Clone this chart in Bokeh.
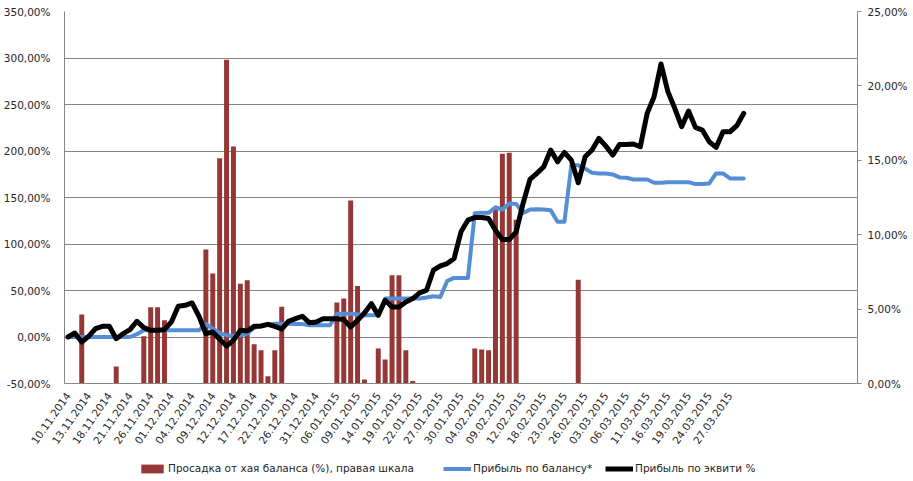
import numpy as np
from bokeh.plotting import figure
from bokeh.layouts import column
from bokeh.models import (Range1d, LinearAxis, FixedTicker, Legend, LegendItem,
                          ColumnDataSource)
from bokeh.embed import file_html
from bokeh.resources import INLINE

# ---- data ----
tick_labels = ["10.11.2014", "13.11.2014", "18.11.2014", "21.11.2014", "26.11.2014",
               "01.12.2014", "04.12.2014", "09.12.2014", "12.12.2014", "17.12.2014",
               "22.12.2014", "26.12.2014", "31.12.2014", "06.01.2015", "09.01.2015",
               "14.01.2015", "19.01.2015", "22.01.2015", "27.01.2015", "30.01.2015",
               "04.02.2015", "09.02.2015", "12.02.2015", "18.02.2015", "23.02.2015",
               "26.02.2015", "03.03.2015", "06.03.2015", "11.03.2015", "16.03.2015",
               "19.03.2015", "24.03.2015", "27.03.2015"]
n_categories = 115

series_names = ["Просадка от хая баланса (%), правая шкала",
                "Прибыль по балансу*",
                "Прибыль по эквити %"]

# drawdown from balance high (%), right scale
drawdown = [0, 0, 4.63, 0, 0, 0, 0, 1.14, 0, 0,
            0, 3.18, 5.12, 5.12, 4.25, 0, 0, 0, 0, 0,
            9.0, 7.39, 15.13, 21.75, 15.93, 6.71, 6.94, 2.64, 2.24, 0.49,
            2.24, 5.15, 0, 0, 0, 0, 0, 0, 0, 5.44,
            5.71, 12.29, 6.56, 0.27, 0, 2.35, 1.61, 7.27, 7.27, 2.24,
            0.16, 0, 0, 0, 0, 0, 0, 0, 0, 2.35,
            2.28, 2.24, 11.68, 15.44, 15.51, 11.01, 0, 0, 0, 0,
            0, 0, 0, 0, 6.98, 0, 0, 0, 0, 0,
            0, 0, 0, 0, 0, 0, 0, 0, 0, 0,
            0, 0, 0, 0, 0, 0, 0, 0, 0]

# profit by balance (%)
balance = [0, 0, 0, 0, 0, 0, 0, 0, 0, 0,
           3.0, 7.2, 7.2, 7.2, 7.2, 7.2, 7.2, 7.2, 7.2, 7.2,
           14.0, 9.0, 4.0, 2.0, 1.5, 1.5, 3.6, 10.0, 11.5, 13.6,
           14.2, 14.2, 14.2, 14.0, 14.0, 12.6, 12.6, 12.6, 12.6, 25.0,
           25.0, 25.0, 24.5, 23.3, 23.3, 23.3, 41.3, 41.3, 41.3, 41.3,
           41.3, 41.3, 42.4, 43.8, 43.1, 60.3, 63.5, 63.5, 63.5, 133.0,
           133.5, 133.5, 139.5, 137.0, 143.6, 143.0, 133.5, 137.0, 137.3, 137.0,
           136.4, 124.0, 124.0, 184.7, 184.7, 181.0, 176.6, 175.9, 175.9, 174.8,
           171.6, 171.2, 169.4, 169.4, 169.4, 165.8, 165.8, 166.5, 166.5, 166.5,
           166.5, 164.4, 164.4, 165.1, 175.9, 175.9, 170.5, 170.5, 170.5]

# profit by equity (%)
equity = [0, 4.3, -5.4, 0.7, 9.0, 11.5, 11.5, -1.8, 3.6, 7.9,
          16.9, 10.0, 7.2, 7.2, 7.9, 16.2, 33.0, 34.1, 36.6, 22.3,
          3.6, 5.4, -2.5, -9.7, -3.6, 7.2, 6.5, 11.5, 11.8, 13.6,
          11.5, 8.6, 16.9, 19.7, 22.3, 15.4, 16.2, 19.7, 19.7, 19.7,
          18.7, 10.8, 17.9, 25.8, 35.9, 23.3, 39.5, 32.3, 32.3, 37.7,
          41.3, 47.4, 50.3, 71.8, 76.5, 79.0, 84.4, 113.1, 125.6, 128.5,
          128.5, 127.4, 114.8, 104.8, 104.8, 113.1, 143.6, 169.4, 175.9, 183.1,
          201.0, 188.4, 198.5, 190.2, 165.8, 193.8, 201.0, 213.6, 205.3, 195.6,
          207.1, 207.1, 207.5, 204.6, 240.5, 258.4, 293.6, 263.8, 245.9, 226.1,
          243.0, 225.4, 222.5, 210.0, 203.9, 220.7, 220.7, 227.2, 240.5]

left_ticks = [-50, 0, 50, 100, 150, 200, 250, 300, 350]
right_ticks = [0, 5, 10, 15, 20, 25]

# ---- style ----
FONT = "DejaVu Sans"
FS = "10.5px"
TXT = "#262626"
GRID = "#868686"
BAR = "#953735"
BLUE = "#558ED5"

x = list(range(len(equity)))
src = ColumnDataSource(dict(x=x, dd=drawdown, bal=balance, eq=equity))

p = figure(frame_width=793, frame_height=372, output_backend="svg", toolbar_location=None,
           x_range=Range1d(-0.5, n_categories - 0.5), y_range=Range1d(-50, 350),
           min_border_left=0, min_border_right=0, min_border_top=11, min_border_bottom=75)
p.extra_y_ranges = {"right": Range1d(0, 25)}
p.outline_line_color = None
p.background_fill_color = "white"
p.border_fill_color = "white"

# grid
p.xgrid.grid_line_color = None
p.ygrid.ticker = FixedTicker(ticks=left_ticks)
p.ygrid.grid_line_color = GRID
p.ygrid.grid_line_width = 1

# x axis
xa = p.xaxis[0]
xa.ticker = FixedTicker(ticks=list(range(0, 3 * len(tick_labels), 3)))
xa.major_label_overrides = {3 * i: lab for i, lab in enumerate(tick_labels)}
xa.major_label_orientation = 0.96
xa.major_tick_line_color = None
xa.major_tick_out = 0
xa.major_tick_in = 0
xa.minor_tick_line_color = None
xa.minor_tick_out = 0
xa.axis_line_color = GRID
xa.major_label_text_font = FONT
xa.major_label_text_font_size = FS
xa.major_label_text_color = TXT
xa.major_label_standoff = 10

# left axis
ya = p.yaxis[0]
ya.ticker = FixedTicker(ticks=left_ticks)
ya.major_label_overrides = {t: f"{t},00%" for t in left_ticks}
ya.major_tick_line_color = None
ya.minor_tick_line_color = None
ya.axis_line_color = GRID
ya.major_label_text_font = FONT
ya.major_label_text_font_size = FS
ya.major_label_text_color = TXT
ya.major_label_standoff = 8

# right axis
ra = LinearAxis(y_range_name="right", ticker=FixedTicker(ticks=right_ticks))
ra.major_label_overrides = {t: f"{t},00%" for t in right_ticks}
ra.major_tick_line_color = GRID
ra.major_tick_out = 4
ra.major_tick_in = 0
ra.minor_tick_line_color = None
ra.axis_line_color = GRID
ra.major_label_text_font = FONT
ra.major_label_text_font_size = FS
ra.major_label_text_color = TXT
ra.major_label_standoff = 6
p.add_layout(ra, "right")

# glyphs
bars = p.vbar(x="x", top="dd", bottom=0, width=0.72, source=src, y_range_name="right",
              fill_color=BAR, line_color=None)
bl = p.line("x", "bal", source=src, line_color=BLUE, line_width=4,
            line_join="round", line_cap="round")
el = p.line("x", "eq", source=src, line_color="black", line_width=5,
            line_join="round", line_cap="round")

# ---- legend strip (separate small figure, swatch renderers lie outside its view) ----
lf = figure(width=900, height=20, output_backend="svg", toolbar_location=None,
            x_range=Range1d(0, 1), y_range=Range1d(0, 1),
            x_axis_location=None, y_axis_location=None, min_border=0)
lf.grid.visible = False
lf.outline_line_color = None
lf.border_fill_color = "white"
lr1 = lf.vbar(x=[10], top=[10], bottom=[9], width=0.5, fill_color=BAR, line_color=None)
lr2 = lf.line(x=[10, 11], y=[10, 10], line_color=BLUE, line_width=4)
lr3 = lf.line(x=[10, 11], y=[10, 10], line_color="black", line_width=5)

for name, rend, xpos in zip(series_names, [lr1, lr2, lr3], [74, 379, 541]):
    lg = Legend(items=[LegendItem(label=name, renderers=[rend])],
                location=(xpos, 4), orientation="horizontal")
    lg.label_text_font = FONT
    lg.label_text_font_size = FS
    lg.label_text_color = TXT
    lg.glyph_width = 28
    lg.glyph_height = 11
    lg.label_standoff = 2
    lg.padding = 0
    lg.margin = 0
    lg.border_line_color = None
    lg.background_fill_alpha = 0
    lg.label_height = 11
    lf.add_layout(lg, "center")

layout = column(p, lf, spacing=0)
open("out.html", "w").write(file_html(layout, INLINE))
